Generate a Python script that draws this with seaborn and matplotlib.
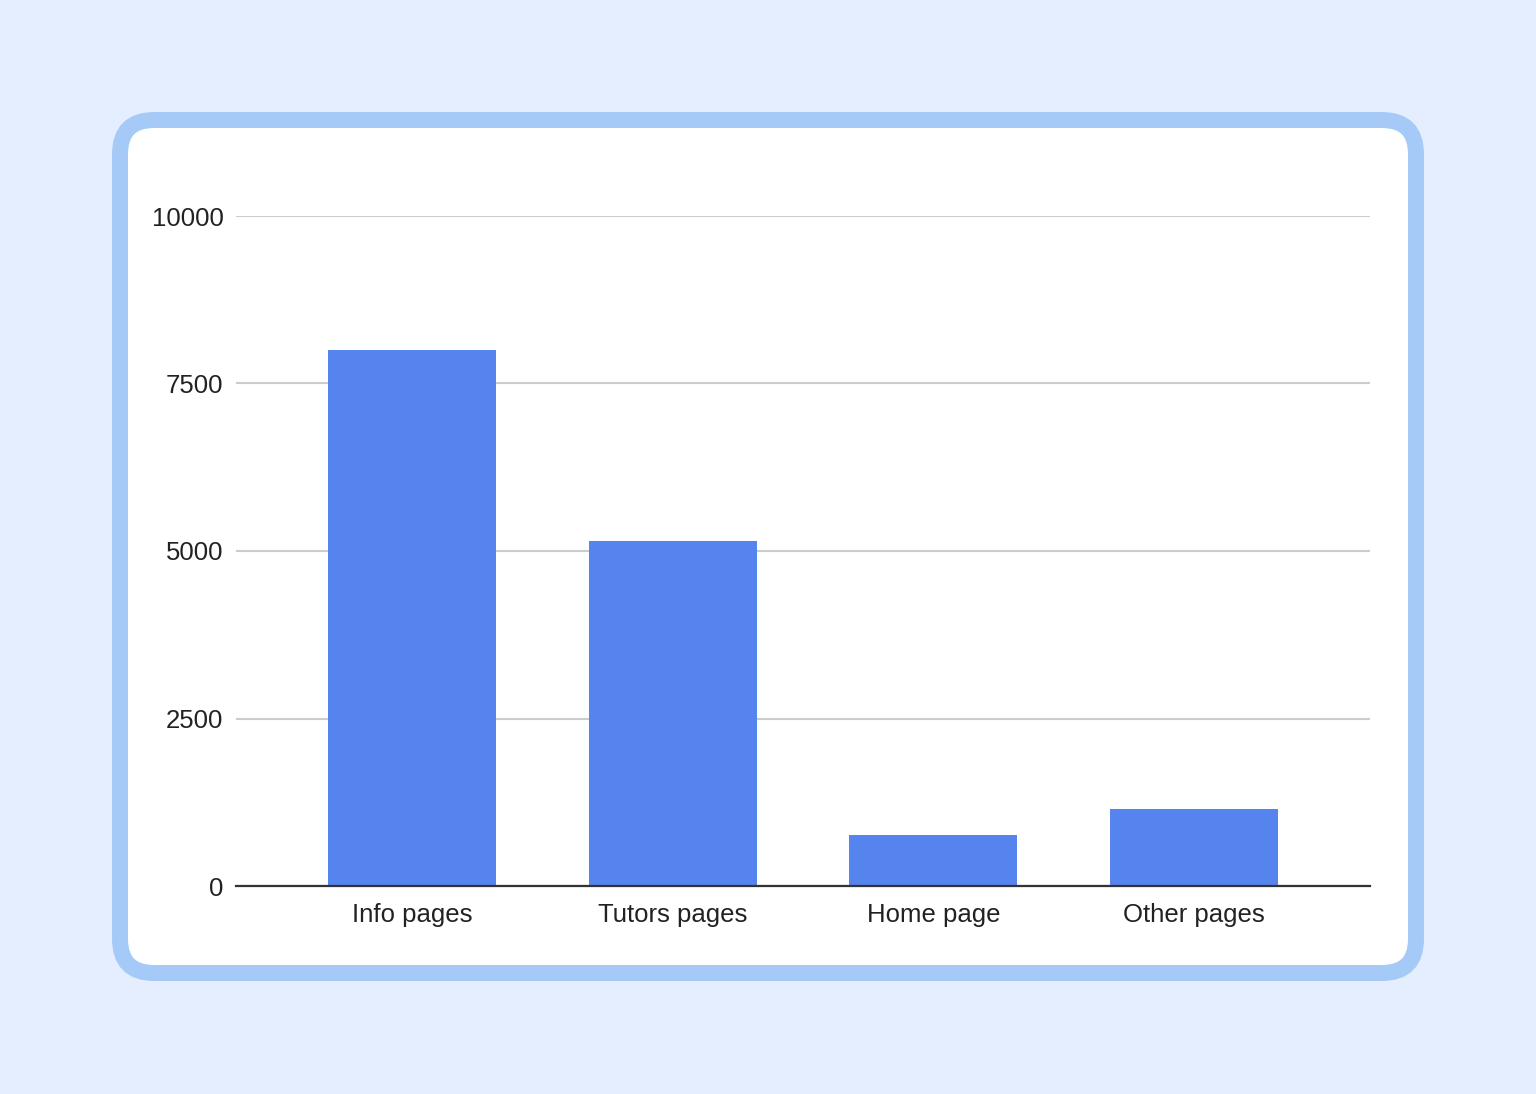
import matplotlib
matplotlib.use("Agg")
import matplotlib.pyplot as plt
from matplotlib.patches import FancyBboxPatch
import pandas as pd
import seaborn as sns

pages = ["Info pages", "Tutors pages", "Home page", "Other pages"]
visits = [8000, 5150, 760, 1150]
y_ticks = [0, 2500, 5000, 7500, 10000]

W, H = 1536, 1094
df = pd.DataFrame({"page": pages, "visits": visits})

sns.set_theme(style="white")
plt.rcParams["font.family"] = ["Liberation Sans", "DejaVu Sans"]

fig = plt.figure(figsize=(W / 100, H / 100), dpi=100)
fig.patch.set_facecolor("#E5EEFE")

# background card, drawn in pixel units
bg = fig.add_axes([0, 0, 1, 1])
bg.set_xlim(0, W)
bg.set_ylim(0, H)
bg.axis("off")
card = FancyBboxPatch((120, H - 973), 1296, 853,
                      boxstyle="round,pad=0,rounding_size=34",
                      facecolor="white", edgecolor="#A6CAF8",
                      linewidth=16 * 0.72)
bg.add_patch(card)

ax = fig.add_axes([236 / W, (H - 886) / H, (1370 - 236) / W, 670 / H])
ax.set_facecolor("none")
sns.barplot(data=df, x="page", y="visits", color="#5684EE",
            width=0.645, saturation=1, linewidth=0, ax=ax, zorder=3)

ax.set_xlim(-0.676, 3.676)
ax.set_ylim(0, 10000)
ax.set_yticks(y_ticks)
ax.set_yticklabels([str(t) for t in y_ticks])
ax.set_xlabel("")
ax.set_ylabel("")
ax.grid(axis="y", color="#CCCCCC", linewidth=1.5, zorder=0)
for s in ["top", "right", "left"]:
    ax.spines[s].set_visible(False)
ax.spines["bottom"].set_color("#333333")
ax.spines["bottom"].set_linewidth(1.6)
ax.spines["bottom"].set_zorder(4)
ax.tick_params(axis="both", length=0, labelsize=18.5, labelcolor="#222222")
ax.tick_params(axis="y", pad=9)
ax.tick_params(axis="x", pad=12)

fig.savefig("out.png", dpi=100, facecolor=fig.get_facecolor())
